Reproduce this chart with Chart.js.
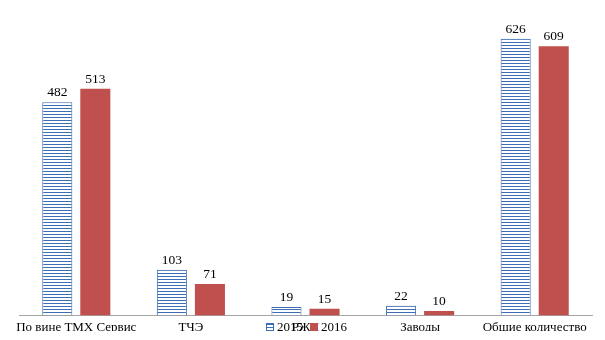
<!DOCTYPE html>
<html><head><meta charset="utf-8">
<script src="https://cdn.jsdelivr.net/npm/chart.js@4"></script>
<style>html,body{margin:0;padding:0;background:#fff}#wrap{width:605px;height:340px}</style>
</head><body><div id="wrap"><canvas id="c" width="605" height="340"></canvas></div>
<script>
const categories = ["По вине ТМХ Сервис", "ТЧЭ", "РЖД", "Заводы", "Общие количество"];
const series2015 = [482, 103, 19, 22, 626];
const series2016 = [513, 71, 15, 10, 609];
const seriesLabels = ["2015", "2016"];

const BLUE = '#3d6db5';
const RED = '#c0504d';
function makePattern(){
  const p = document.createElement('canvas');
  p.width = 4; p.height = 3;
  const g = p.getContext('2d');
  g.fillStyle = '#fff'; g.fillRect(0,0,4,3);
  g.fillStyle = BLUE; g.fillRect(0,0,4,1);
  return document.getElementById('c').getContext('2d').createPattern(p,'repeat');
}
const pat = makePattern();
const SERIF = '"Liberation Serif", "Times New Roman", serif';

const labelPlugin = {
  id: 'vals',
  afterDatasetsDraw(chart){
    const ctx = chart.ctx;
    ctx.save();
    ctx.font = '13.5px ' + SERIF;
    ctx.fillStyle = '#000';
    ctx.textAlign = 'center';
    ctx.textBaseline = 'alphabetic';
    chart.data.datasets.forEach((ds, i) => {
      chart.getDatasetMeta(i).data.forEach((el, j) => {
        ctx.fillText(String(ds.data[j]), el.x, el.y - 6);
      });
    });
    // legend
    ctx.font = '13px ' + SERIF;
    const y = 327;
    let x = 266;
    chart.data.datasets.forEach((ds, i) => {
      if (i === 0) {
        ctx.fillStyle = pat;
        ctx.fillRect(x, y-4, 8, 8);
        ctx.strokeStyle = BLUE; ctx.lineWidth = 1;
        ctx.strokeRect(x+0.5, y-3.5, 7, 7);
      } else {
        ctx.fillStyle = RED;
        ctx.fillRect(x, y-4, 8, 8);
      }
      ctx.fillStyle = '#000';
      ctx.textAlign = 'left';
      ctx.textBaseline = 'middle';
      ctx.fillText(ds.label, x + 11, y + 1);
      x += 44;
    });
    ctx.restore();
  }
};

new Chart(document.getElementById('c'), {
  type: 'bar',
  data: {
    labels: categories,
    datasets: [
      { label: seriesLabels[0], data: series2015, backgroundColor: pat, borderColor: BLUE, borderWidth: 1 },
      { label: seriesLabels[1], data: series2016, backgroundColor: RED, borderWidth: 0 }
    ]
  },
  options: {
    responsive: false,
    animation: false,
    devicePixelRatio: 1,
    layout: { padding: { left: 19, right: 13, top: 6, bottom: 9 } },
    plugins: { legend: { display: false }, tooltip: { enabled: false } },
    datasets: { bar: { categoryPercentage: 0.664, barPercentage: 0.79 } },
    scales: {
      x: {
        grid: { display: false },
        border: { display: true, color: '#a6a6a6', width: 1 },
        ticks: { color: '#000', font: { family: SERIF, size: 13 }, maxRotation: 0, minRotation: 0, autoSkip: false, padding: -4 }
      },
      y: { display: false, min: 0, max: 700 }
    }
  },
  plugins: [labelPlugin]
});
</script></body></html>
